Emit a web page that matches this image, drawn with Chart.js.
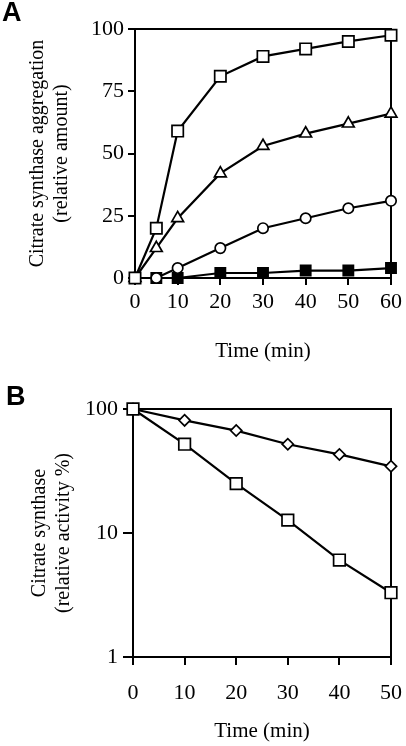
<!DOCTYPE html>
<html lang="en">
<head>
  <meta charset="UTF-8">
  <title>Citrate synthase</title>
  <style>
    body { margin: 0; background: white; }
    #wrap { position: relative; width: 406px; height: 746px; background: white; }
    #chartA { position: absolute; left: 0; top: 0; }
    #chartB { position: absolute; left: 0; top: 370px; }
    .panel { position: absolute; font-family: "Liberation Sans", Arial, sans-serif; font-weight: bold; font-size: 27px; color: black; }
  </style>
</head>
<body>
  <div id="wrap">
    <canvas id="chartA" width="406" height="370"></canvas>
    <canvas id="chartB" width="406" height="376"></canvas>
    <div class="panel" style="left:2px; top:-3px;">A</div>
    <div class="panel" style="left:6px; top:381px;">B</div>
  </div>

  <script src="https://cdn.jsdelivr.net/npm/chart.js"></script>
  <script>
    // panel A: aggregation vs time
    const timeA = [0, 5, 10, 20, 30, 40, 50, 60];
    const openSquareA = [0, 20, 59, 81, 89, 92, 95, 97.5];
    const triangleA = [0, 12, 24, 42, 53, 58, 62, 66];
    const circleA = [0, 0, 4, 12, 20, 24, 28, 31];
    const filledSquareA = [0, 0, 0, 2, 2, 3, 3, 4];
    const yTicksA = [0, 25, 50, 75, 100];

    // panel B: activity vs time (log)
    const timeB = [0, 10, 20, 30, 40, 50];
    const diamondB = [100, 81, 67, 52, 43, 34.5];
    const squareB = [100, 52, 25, 12.7, 6.05, 3.3];
    const yTicksB = [1, 10, 100];

    const serif = 'Liberation Serif';
    const pts = (xs, ys) => xs.map((x, i) => ({ x: x, y: ys[i] }));

    function series(data, style, radius, fill) {
      return {
        data: data,
        borderColor: 'black',
        borderWidth: 2.2,
        pointStyle: style,
        pointRadius: radius,
        pointHoverRadius: radius,
        pointBackgroundColor: fill,
        pointBorderColor: 'black',
        pointBorderWidth: 1.7,
        tension: 0,
        clip: false
      };
    }

    function frameAxis(pos, min, max, type) {
      return {
        type: type, position: pos, min: min, max: max,
        ticks: { display: false },
        grid: { display: false },
        border: { display: true, color: 'black', width: 2 },
        afterFit: s => { if (pos === 'top') s.height = 0; else s.width = 0; }
      };
    }

    function axisTicks(len) {
      return { display: true, drawOnChartArea: false, drawTicks: true, tickLength: len, color: 'black', lineWidth: 2 };
    }

    new Chart(document.getElementById('chartA'), {
      type: 'line',
      data: {
        datasets: [
          series(pts(timeA, openSquareA), 'rect', 8, 'white'),
          series(pts(timeA, triangleA), 'triangle', 6.8, 'white'),
          series(pts(timeA, circleA), 'circle', 5.2, 'white'),
          series(pts(timeA, filledSquareA), 'rect', 7.2, 'black')
        ]
      },
      options: {
        responsive: false,
        animation: false,
        devicePixelRatio: 1,
        layout: { autoPadding: false, padding: { top: 29, right: 11, left: 0, bottom: 0 } },
        plugins: { legend: { display: false }, tooltip: { enabled: false } },
        scales: {
          x: {
            type: 'linear', min: 0, max: 60,
            ticks: { stepSize: 10, color: 'black', padding: 4, font: { family: serif, size: 22 } },
            grid: axisTicks(7),
            border: { display: true, color: 'black', width: 2 },
            title: { display: true, text: 'Time (min)', color: 'black', font: { family: serif, size: 21 }, padding: { top: 0, bottom: 6 } },
            afterFit: s => { s.height = 92; }
          },
          y: {
            min: 0, max: 100,
            afterBuildTicks: s => { s.ticks = yTicksA.map(v => ({ value: v })); },
            ticks: { color: 'black', padding: 4, font: { family: serif, size: 22 } },
            grid: axisTicks(7),
            border: { display: true, color: 'black', width: 2 },
            title: { display: true, text: ['Citrate synthase aggregation', '(relative amount)'], color: 'black', font: { family: serif, size: 20, lineHeight: 1.2 }, padding: { top: 26, bottom: 0 } },
            afterFit: s => { s.width = 135; }
          },
          x2: frameAxis('top', 0, 60, 'linear'),
          y2: frameAxis('right', 0, 100, 'linear')
        }
      }
    });

    new Chart(document.getElementById('chartB'), {
      type: 'line',
      data: {
        datasets: [
          series(pts(timeB, squareB), 'rect', 8.2, 'white'),
          series(pts(timeB, diamondB), 'rectRot', 5.6, 'white')
        ]
      },
      options: {
        responsive: false,
        animation: false,
        devicePixelRatio: 1,
        layout: { autoPadding: false, padding: { top: 39, right: 15, left: 0, bottom: 0 } },
        plugins: { legend: { display: false }, tooltip: { enabled: false } },
        scales: {
          x: {
            type: 'linear', min: 0, max: 50,
            ticks: { stepSize: 10, color: 'black', padding: 4, font: { family: serif, size: 22, lineHeight: 2.2 } },
            grid: axisTicks(8),
            border: { display: true, color: 'black', width: 2 },
            title: { display: true, text: 'Time (min)', color: 'black', font: { family: serif, size: 21 }, padding: { top: 0, bottom: 2 } },
            afterFit: s => { s.height = 89; }
          },
          y: {
            type: 'logarithmic', min: 1, max: 100,
            afterBuildTicks: s => { s.ticks = yTicksB.map(v => ({ value: v })); },
            ticks: { color: 'black', padding: 5, font: { family: serif, size: 22 }, callback: v => String(v) },
            grid: axisTicks(10),
            border: { display: true, color: 'black', width: 2 },
            title: { display: true, text: ['Citrate synthase', '(relative activity %)'], color: 'black', font: { family: serif, size: 20, lineHeight: 1.2 }, padding: { top: 28, bottom: 0 } },
            afterFit: s => { s.width = 133; }
          },
          x2: frameAxis('top', 0, 50, 'linear'),
          y2: frameAxis('right', 1, 100, 'logarithmic')
        }
      }
    });
  </script>
</body>
</html>
